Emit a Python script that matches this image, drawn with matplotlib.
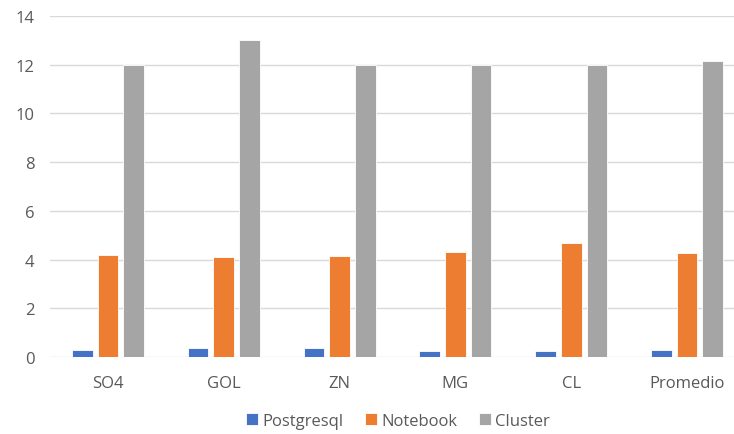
import matplotlib.pyplot as plt
import numpy as np

plt.rcParams['font.family'] = ['Open Sans', 'DejaVu Sans']

categorias = ['SO4', 'GOL', 'ZN', 'MG', 'CL', 'Promedio']
postgresql = [0.29, 0.36, 0.36, 0.25, 0.25, 0.30]
notebook = [4.19, 4.09, 4.13, 4.30, 4.66, 4.26]
cluster = [12.0, 13.0, 12.0, 12.0, 12.0, 12.16]

series = [('Postgresql', postgresql, '#4472C4'),
          ('Notebook', notebook, '#ED7D31'),
          ('Cluster', cluster, '#A5A5A5')]

fig = plt.figure(figsize=(7.34, 4.35), dpi=100)
# el área de dibujo sobresale un poco por la derecha
ax = fig.add_axes([50 / 734, 77 / 435, 695 / 734, 341 / 435])

x = np.arange(len(categorias))
ancho = 0.179
paso = 0.222
for i, (nombre, valores, color) in enumerate(series):
    ax.bar(x + (i - 1) * paso, valores, ancho, color=color, label=nombre,
           edgecolor='white', linewidth=0.6, zorder=3)

ax.set_xlim(-0.5, len(categorias) - 0.5)
ax.set_ylim(0, 14)
ax.set_yticks(range(0, 15, 2))
ax.set_xticks(x)
ax.set_xticklabels(categorias)
ax.grid(axis='y', color='#D9D9D9', linewidth=1, zorder=0)
for s in ax.spines.values():
    s.set_visible(False)
ax.tick_params(length=0, labelsize=12, colors='#595959', pad=11)
ax.tick_params(axis='x', pad=13)

ax.legend(loc='center', bbox_to_anchor=(398 / 734, 13 / 435),
          bbox_transform=fig.transFigure, ncol=3, frameon=False,
          fontsize=12, labelcolor='#595959', handlelength=0.72,
          handleheight=0.72, handletextpad=0.25, columnspacing=1.3)

fig.savefig('out.png', dpi=100)
